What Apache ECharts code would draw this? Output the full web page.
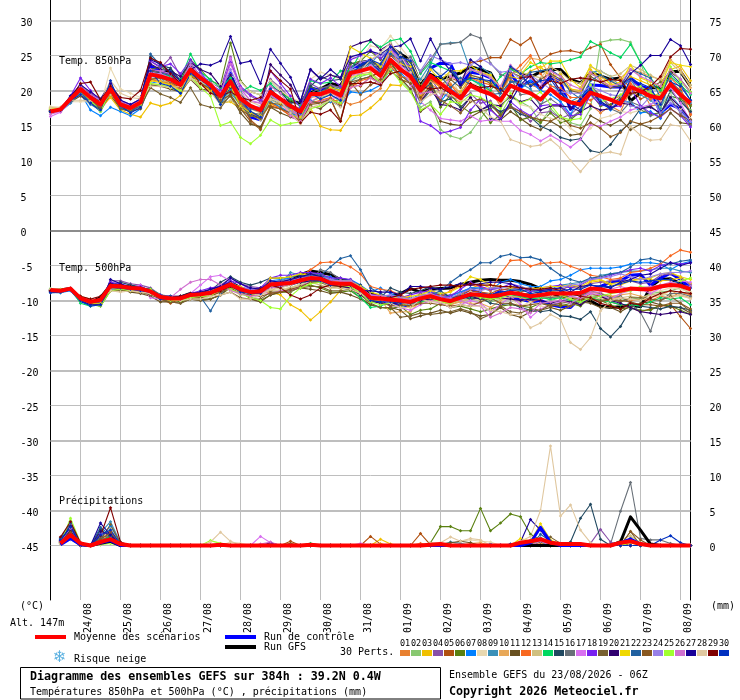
<!DOCTYPE html>
<html><head><meta charset="utf-8">
<style>html,body{margin:0;padding:0;background:#fff}#c{width:740px;height:700px}</style>
<script src="https://cdn.jsdelivr.net/npm/echarts@6/dist/echarts.min.js"></script>
</head><body><div id="c"></div>
<script>
const dateLabels=['24/08','25/08','26/08','27/08','28/08','29/08','30/08','31/08','01/09','02/09','03/09','04/09','05/09','06/09','07/09','08/09'];
const leftTicks=[30,25,20,15,10,5,0,-5,-10,-15,-20,-25,-30,-35,-40,-45];
const rightTicks=[75,70,65,60,55,50,45,40,35,30,25,20,15,10,5,0];
const memberNames=['01','02','03','04','05','06','07','08','09','10','11','12','13','14','15','16','17','18','19','20','21','22','23','24','25','26','27','28','29','30'];
const memberColors=['#e88030','#88c870','#f0c000','#8850a8','#b05010','#5a8010','#0080ff','#e8d8b0','#3a90b8','#e8a858','#685020','#f86820','#d0c080','#00d860','#204860','#687078','#d870f0','#7820f0','#786030','#300070','#f0d800','#2060a0','#885820','#9880e8','#a0ff30','#d070d0','#180098','#e0c8a0','#800000','#0030c0'];

const mean850=[17,17.3,18.8,20.2,19,18,20.2,18,17.5,18.3, 22.3,22,21.6,20.8,23,21.8,20.8,19.2,21.3,18.8, 17.8,17.2,19.8,18.8,17.8,17,19.5,19.5,20,19.3, 22.5,22.8,23.2,22.1,24.4,23,22,20,22.1,21, 19.9,18.9,20.7,20,19.5,18.6,20.7,20.1,19.6,18.7, 20.2,19,18.3,18,19.7,19.2,18.7,18.1,20.5,19.9, 19.2,18.9,20.9,19.4,18.2];
const ctrl850=[17,17.2,18.9,20,18.8,17.6,20.6,17.7,17.4,18.4, 23.5,22.7,22.2,20.9,23.4,22,20.7,19.7,22.5,18.6, 16.2,15.8,19.5,18.4,17.4,16.4,20.4,20,20.4,19.5, 23.3,23.5,24.4,22.4,25.3,23.8,23.1,19.6,23.2,23.9, 23.8,20.8,22.6,22.4,21.8,20,22.4,20.5,21.4,20.2, 22,21.2,17.3,18.6,20.8,20.7,20.5,20.5,21.8,20.6, 20.2,16.8,18,17.4,15.5];
const gfs850=[17.1,17.2,18.7,20.3,18.9,17.9,20.4,17.8,17.3,18.5, 23,22.3,22.9,20.5,22.4,21.4,20.2,18.7,22,18.3, 16.5,16.2,19.2,18.6,18.5,18.2,19.7,20.2,21,20.7, 23.1,24,24.2,23.2,26,25.2,24.4,21,22.3,21.6, 22.1,22.5,23.4,23,22.5,20,23.2,22.5,21.9,22.7, 23,23,21.6,21.1,22.5,22.1,21.6,21.8,18.5,19.7, 20.4,20.4,22.7,22.7,20.6];

const t850_01=[17.3,17.3,18.6,19.8,18.6,17.2,19.2,17.5,17.4,18.4, 21.4,21.2,20.8,20.2,22.6,21.4,20.2,18.8,20.4,18, 16.8,16.3,18.8,18,17,16.2,18.2,18.3,18.4,18.7, 18,18.4,19.3,20.3,24,23,21.7,18.6,21,19.8, 19.2,18.3,20.7,20.5,20,17.8,21.5,21,20.8,20.3, 24,18.7,18.2,18.7,18,16.8,17.8,17,20,20.5, 17.8,18,21,19.6,16.5];
const t850_02=[17.5,17.4,18.5,19.6,18.6,17,19.6,17.8,17.2,18.6, 21.6,21.4,21,20.4,22.8,21.2,20.4,18.6,19.8,17.8, 17,16.4,18.2,17.6,16.6,16,18.4,19,19.4,18.4, 21.4,22,22.4,21.2,23.6,21.6,20,17.6,18.4,14.4, 13.5,13.1,14,16,17.8,16.6,19,18.4,17.6,15.4, 17.4,16,15.4,15,17.4,26.9,27.2,27.3,26.9,24, 20,17.6,19.8,18.6,17.2];
const t850_03=[17.6,17.5,18.4,19.4,18.4,17.6,19,17.2,16.6,16.2, 18.2,17.8,18.2,19.3,22,21,20,18.2,18.4,17.4, 16.6,16,18,17.6,16.8,15.8,17.5,14.9,14.4,14.3, 16.4,16.5,17.5,18.8,20.8,20.7,22.4,19.4,21.6,20.4, 20.8,19.8,22,21.4,21.2,19.8,22,21.6,22.8,23.4, 22,22.4,20.2,20,23,21.6,20.6,20.9,22,21.4, 20.8,20,23,23.5,21.4];
const t850_04=[17,17.2,19,20.9,19.6,18.6,20.8,18.4,17.8,18.7, 24.2,23.2,24.7,22,23.8,21.6,21.2,20.3,24.8,20.4, 19.2,18.4,21.6,20.4,18.8,17.8,21,20.2,20.8,20.4, 23.4,24.2,24,23,25.8,24.6,23.2,20.2,21.8,19.6, 19,18.8,19.6,18.2,18.5,16.6,17.8,17,15.6,16.8, 17,16,16.6,17.8,20.6,19.2,17.8,18.8,21.4,20.4, 19.6,18.4,20.6,19,16.8];
const t850_05=[17.1,17.3,18.9,20.4,19.2,18.2,20,18.1,17.6,18.2, 22.4,22.2,21.8,21,24,22,21,19.5,20.8,18.2, 15.8,14.6,17.8,17.4,16.4,15.6,18.4,18.4,18.9,15.6, 21,20.6,22,22.6,25,24,22.6,20,21.5,20.8, 21.8,21.2,24,24.2,24.7,24.7,27.3,26.5,27.5,24.3, 25.2,25.6,25.7,25.4,26.1,26.6,23.7,21.8,20.4,18.8, 19.4,18.6,21.2,20,18];
const t850_06=[16.9,17.2,19.2,20.6,19.4,18.4,20.4,18.3,17.7,18.8, 23,23.4,22.6,21.4,24.4,23,21.4,20.8,26.8,21.4, 19.8,19.4,21.4,20,18.6,17.8,20.6,19.8,20.6,20, 23.8,24.2,25.6,24.4,26.4,24.6,24,20.6,21.4,17.6, 19.4,17.8,16.8,17.2,15.4,16.6,18,15.8,16.2,15.4, 16.8,15.4,15.8,17,19.6,17.8,18,19,18,17.2, 16.6,16.8,19.2,18.8,17.8];
const t850_07=[17,17,18.2,19.6,17.2,16.4,17.6,17,16.4,17.4, 21,21.4,20.6,19.6,22.4,21.4,20.4,18.4,20.2,18.2, 16.6,16.4,18.4,17.6,16.8,16.2,18.6,18,18.4,17.8, 19.8,19.6,20,20.8,23,22.6,21,18.2,20,18.4, 20.2,19.4,21.6,21,20.2,18.4,20.6,20.2,21.4,20, 19.4,18.4,16.6,19,20.4,18.6,17.2,18.4,18.4,16.8, 17,16,19.4,17.6,15.4];
const t850_08=[17.7,17.6,18.4,18.4,18.4,17.8,23.2,20.2,19.6,19, 20.8,21,20.6,21,22.4,21.6,21,20.8,22.2,21.2, 19.8,19.4,21.4,20,19,18.4,21.6,22.6,22.2,21.6, 24.8,24.4,26.4,26,27.8,26.2,24.4,21.4,23,22.4, 22.2,19.2,21,20.8,19.6,18.2,19.4,18,17.6,16.6, 16,15.8,14.6,13.6,14.6,16,16.4,17,16.8,17.2, 18,18.6,19.4,17.4,16];
const t850_09=[17.2,17.1,18.2,19.4,18,17.2,19.8,17.6,17.3,18, 22,21.8,20.6,20.2,23,22,21.4,18.2,19.6,18.2, 16.4,16.2,18.8,18,17.4,16.8,19.4,19.8,20.2,20.4, 21.2,22.6,23.8,25.4,25.2,24.8,22,21.6,23.8,26.6, 26.8,26.9,22.8,23.4,22.4,19,21.2,21,20.2,17.8, 20.8,19.8,18.4,19.2,22.6,22.8,22,20.6,21.6,19.4, 18.6,17.4,21.4,19.8,18.2];
const t850_10=[17.4,17.4,18.6,20,18.8,18,20,18.2,17.4,18.2, 21.8,21.4,21.2,20.6,23.4,21.8,20.4,18.8,21,18.4, 17.4,16.8,19.2,18.4,17.6,16.6,19,19.2,19.6,19, 22,22.4,22.6,21.4,23.6,22.8,21.8,20.2,21.2,20.8, 21,19.6,20.8,19.8,20.2,18.4,22.4,22.8,24.6,24.4, 22,21.2,20,19.8,22.4,22,21,21.8,23,22.6, 22,21.6,24.4,23,20.4];
const t850_11=[17,17,18.4,19.2,18.2,17.4,19.4,17.4,17,17.4, 20.8,20.6,20.2,19.8,21.6,20.2,20,18,19.2,16.8, 15.2,14.8,17.6,16.8,16.2,15.8,17.8,17.4,18.6,18.2, 20.8,21.6,22,22.6,24.2,21.8,20.2,17,18,15.6, 15.2,15,16.2,17,17.4,15.8,17,16,15,14.4, 15.6,14.8,13.6,13.8,16.4,15.6,15,15.8,14.4,15.2, 14.6,14.6,16.8,15.4,15.2];
const t850_12=[17.2,17.2,18.8,19.8,18.8,17.8,19.6,17.6,17.2,18, 21.6,21.2,21,20.2,22.2,21,20.2,18.6,20.4,18.2, 16.8,16,18.2,17.4,16.4,15.6,18.2,18.6,19,18, 20.4,21.4,21.8,21,23.4,22,21.6,19,21.8,20.4, 20.8,19.2,21.8,21.2,20.8,19.8,22.2,23.6,25,22.4, 20.6,20.4,19,19,18.6,19.4,18.6,19.2,21,19.8, 18.8,19.8,21.8,20.4,16.6];
const t850_13=[17.5,17.5,18.6,19.4,18.6,17.8,19.4,18,17.4,17.8, 21,20.8,20.4,20,21.6,20.8,19.8,18,18.6,17.6, 16.6,15.8,18.6,18,17.2,16.6,19,19.6,20.2,19.8, 22.6,23,23.4,23.8,25.4,23.4,21.2,19.6,20.4,19.6, 23,21.6,23,22.4,22,20.4,23,22.6,22.2,21.8, 23.4,22.6,21.4,21,23.4,22.8,22,22.4,23.6,23, 22.2,21.4,24,22.6,20.8];
const t850_14=[17.2,17.3,18.9,20.4,19.2,18.2,20.4,18.2,17.6,18.4, 22.6,22.4,22,21.6,25.2,22.6,21.6,20.4,21.8,19.8, 20.6,20,21,19.6,18.8,17.8,21.4,21,21.2,22.8, 22.8,25.4,27,26.2,27.1,27.4,25.6,22.4,24,23.4, 22.8,21.4,21.6,20.8,20,22,23,22.4,23.4,24, 23.8,24,24.4,24.8,27,26.3,25.4,24.7,26.6,24, 21.8,20,22,20.8,19.4];
const t850_15=[17,17.1,19,20,18.6,17.6,20.8,17.8,17.6,18.6, 24.8,23.6,23.2,21.4,23.4,22,20.6,18.4,20.4,17.8, 16.6,16,20.6,19.8,18.2,18.4,20.6,22,21.4,21.6, 24,23.4,24.4,23.2,26.4,25.4,23.4,19.8,21,18.4, 18.8,17.6,19,17.2,17.8,17,17.6,16.6,16.2,14.9, 14.3,13.3,12.9,13.1,11.4,11.1,12.3,14.2,15.4,17.4, 17.8,16.6,20,18.4,17];
const t850_16=[17.1,17.3,18.7,19.8,18.4,17.8,20.4,18.2,17.8,18.2, 22.8,22.6,22.2,21,23.6,22.2,20.9,19.4,20.8,18.4, 16.8,16.6,20,18.8,18,17.4,19.6,20.4,20.6,20.4, 22.8,23.2,24,23.4,25.2,24,24.8,22.6,24.4,26.6, 26.7,26.9,28,27.5,23.9,22.3,21.8,19.4,19.6,18, 18.8,17.8,16,17.2,20.8,19.2,17.4,16.8,18.4,17.8, 16.4,16.8,18.8,16.8,15];
const t850_17=[16.3,16.9,18.4,20.2,19.2,18,20.6,18.4,17.8,18.2, 22.6,22.4,21.8,20.4,23.2,21.8,20.6,19.2,24.6,20.2, 18.6,18.2,19.4,18.4,16.4,15.4,18.2,18.4,18.8,19.2, 22.2,22.4,23.6,22.6,26.4,23.6,20.8,18.4,17.2,16, 15.8,15.6,16.4,15.6,15.8,15.6,15.6,14.3,13.7,12.8, 13.6,12.8,11.9,13,15.1,14.9,15.6,16.2,17.2,17.6, 18,18.8,20.4,18.2,15.6];
const t850_18=[17.2,17.3,19.2,21.8,20,18.4,21,18.6,18,18.8, 24.2,23.4,23.8,22.4,24.4,22.6,20.8,20,24,20.6, 19.4,18.6,22.8,21,19.2,17.6,21.6,21,21.8,20.6, 24.4,25,25.8,24.6,25.8,25,23.2,15.6,15,13.9, 14.2,14.7,17.2,18.8,17.2,16,18.4,17.2,16.4,17.8, 18,18,16.4,16.6,19.4,18,17.6,17.8,20.4,17.8, 16.8,16.2,17.4,16.4,14.8];
const t850_19=[17,17.2,18.5,20,18.8,17.5,19.8,17.4,17,17.8, 20.4,19.5,19,18.3,20.4,18,17.6,17.5,19.4,17.2, 16.4,16,18.2,18,17.6,16.6,18.4,18.2,18.6,17.8, 21.2,21.6,22,21,23.8,22.2,21,18.4,20,18.6, 21.6,20.4,22.2,21.8,21,19.6,22.6,22,20.8,21.6, 22.4,21.6,20,19.6,22,21.2,20.4,20.6,19.4,20, 20.4,21.2,22.6,21.6,19.8];
const t850_20=[17,17.1,19,20.6,19.4,18.2,20.4,18.4,17.8,18.6, 23.8,23,22.8,22,24,23,22.4,20.6,22.2,19.6, 17.8,17.4,23.7,22.2,20.8,18.4,23,21.6,22.2,21.8, 26.2,26.8,27.2,25.8,26.7,24.8,22.4,18.4,20.4,18, 17.8,17.2,19,17.2,18,17.8,19.2,18.4,18.8,17.2, 17.8,17.8,17.6,17,17.8,17.2,17.4,18.2,18,17.4, 17.6,16.8,19,17.6,15.8];
const t850_21=[17.4,17.4,18.8,20.2,19,18.2,20,18.1,17.4,18.4, 21.4,21.2,20.8,20,22.6,21,20,18.6,20.6,17.8, 16.8,16.4,19.2,18.2,17.2,16.2,19.2,19.4,20.4,20, 26.2,25.4,24.6,23.4,25.6,23.8,23.4,20.6,23,21.4, 22.8,22.8,23.6,22.6,22.2,20.4,23.4,22.2,24,23.2, 24.2,24.2,21.6,20.4,23.6,22.4,20.8,21.2,23.6,21.8, 21.2,20.6,24,23.6,23.4];
const t850_22=[17.1,17.2,18.4,19.8,18.2,17,20,17.6,17,18, 25.2,23.6,22.8,21.2,22.6,21.6,20.4,18.6,21.4,18.8, 17.4,17,20.2,18.6,17.6,16.8,19.4,19.2,20,19.2, 22.6,23,24,22.6,25.2,24.4,22.8,20.4,23.4,22, 20.4,21.8,20.8,20.2,19.4,19.6,21.2,21.4,22.6,22.8, 23,22,19.8,18.8,21.4,22.2,21.4,20.6,23,22.4, 21.8,19,22.4,21,18.6];
const t850_23=[17,17.2,18.6,19.8,18.8,18,19.8,17.8,17.2,18.1, 21.6,21.8,21.2,20.4,22,21,20.2,18.6,19.4,17.4, 15.6,14.4,17.6,17.4,16.8,15.4,18,18.2,18.8,15.8, 21.2,19.4,20.8,21.6,22.8,21.6,21,19,20.6,18.6, 17.8,16.8,18.4,18.8,18.2,16.4,17.6,17,16.2,15.8, 15.6,16.4,15,14.6,15.4,14.6,13.4,14,15.6,15.2, 15.6,16.4,17.4,16.4,15.8];
const t850_24=[17.1,17.3,19,20.4,19.2,18.2,20.2,18.2,17.8,18.6, 22,22.2,21.4,20.8,24,22,21,19.8,23,20, 17.8,17.6,19.2,18.4,17,16.6,19,19.6,20,19.4, 23,24,24.4,25,25.8,24.4,24.4,22.8,25,24.4, 23.8,24,23.6,24.6,23.8,22.6,22.8,21.6,22.2,21.2, 20.2,19.8,19.6,19.6,20.6,20,19.4,19.2,17.8,17.6, 19.2,16.8,18.2,17,15.6];
const t850_25=[17.3,17.3,18.8,20,18.6,17,20,17.8,17.4,18, 21,20.8,20.4,20,22,20.4,19.2,15,15.5,13.3, 12.4,13.6,15.8,15,15.3,15.5,17.4,17.8,18.6,18.2, 21.8,22.2,22.4,21,23,21.2,19.8,17.2,18,16.6, 18.4,18.2,19.4,19,18.2,17.4,19.6,18.2,18.8,19.8, 18,16.2,15.8,16,20.8,18.4,18.8,19.4,20.2,20.6, 19.6,19.2,23.4,21.2,19.8];
const t850_26=[16.6,17,18.7,20.6,19.4,18.6,20.6,18.4,17.9,18.5, 23,22.8,22.4,21.2,23.6,22.2,20.8,19.6,23.8,20.4, 18.4,18.2,20.6,19.6,17.8,15.6,18.4,19.2,19.8,18.8, 20.4,20.8,21.8,21,26,23.6,22.4,19.6,19.8,19, 22,21.4,23,22.6,21.8,20.6,23.6,22.4,21.8,20.6, 22.8,22,20.8,20.2,22.6,21.4,20.6,21,23,22, 21.4,20.6,23,21.6,19.6];
const t850_27=[17,17.2,19.2,20.8,19.8,18.8,21,18.6,18,18.8, 24.4,23.8,22.6,21.4,23,23.8,23.6,24.2,27.7,23.9, 24.2,21,25.9,23.9,21.9,18.5,23,21.7,23,21.8, 24.8,25.2,25.6,25.2,26.2,26.4,27.4,24.2,27.4,24.6, 22.8,20.8,24.4,23.4,16,15.8,18.4,20.8,22.2,20.4, 22,20,17.4,18.8,20.2,18.4,17.6,20.4,22.4,23.6, 25,25,27.3,26.4,23.7];
const t850_28=[17.5,17.6,18.6,18.6,18.5,18.4,21.4,19.6,19,18.8, 20.6,20.6,20.4,20.6,21.8,21.2,20.6,19.2,21,19.6, 18.4,17.8,18.8,18.4,16.8,15.2,17.6,18,18.6,17.6, 21.6,22.8,24.4,25.4,26.8,25,22.6,18.4,19.4,19.8, 19.4,18.6,18.6,17.6,16.2,15.6,13,12.5,12,12.2, 13,11.8,10,8.4,10.1,11,11.2,10.9,14.9,13.6, 12.9,13,15.1,14.9,12.8];
const t850_29=[17.1,17.2,18.8,21,21.2,18.7,20.6,19,18.8,20, 24.6,24,22.4,21,22.8,21,19.6,19.2,19.8,19, 18.6,19,22.8,21.4,20.2,15.4,16.9,16.6,17.2,15.6, 21,21,21.2,20.8,22.4,22.8,22,20.6,20.2,20.4, 19.6,19.2,21,20.4,20.6,20.2,19,21.8,22,20.4, 21.4,21,21.6,21.8,21.6,21.2,21.6,21.4,19.6,19.8, 20.6,22,24.8,26,25.9];
const t850_30=[17,17.2,18.6,19.4,18.2,17.2,21.4,17.8,16.8,17.6, 22.8,21,20.6,19.6,22.4,21.6,20.4,18,21.2,18.8, 17,16.2,20.2,18.8,17.8,16.8,19.6,18.8,19.4,18.6, 22.2,23.6,24.4,23.8,26.2,24.8,24.2,20,22,22, 23.2,21.2,21.8,21.6,21.4,20,23.4,22.4,20.6,21.4, 21.6,19.6,18.2,17.2,20,18.2,17.4,18.6,21.6,21, 20.4,18,21.2,20.6,18.6];
const temps850=[t850_01,t850_02,t850_03,t850_04,t850_05,t850_06,t850_07,t850_08,t850_09,t850_10,t850_11,t850_12,t850_13,t850_14,t850_15,t850_16,t850_17,t850_18,t850_19,t850_20,t850_21,t850_22,t850_23,t850_24,t850_25,t850_26,t850_27,t850_28,t850_29,t850_30];

const mean500=[-8.5,-8.6,-8.3,-9.7,-10.2,-9.9,-7.9,-8,-8.2,-8.3, -8.7,-9.5,-9.7,-9.7,-9.2,-9.1,-8.9,-8.3,-7.7,-8.4, -8.8,-8.7,-7.7,-7.6,-7.5,-7.1,-6.8,-6.9,-7.5,-7.6, -7.6,-8.4,-9.6,-9.7,-9.9,-10,-10.2,-9.7,-9.4,-9.8, -10.1,-9.6,-9.1,-9.2,-9.4,-9.2,-8.9,-9.1,-9.4,-9.2, -9,-9,-9,-8.9,-8.3,-8.4,-8.7,-8.6,-8.3,-8.4, -8.4,-8,-7.8,-7.9,-8.4];
const ctrl500=[-8.7,-8.7,-8.4,-10,-10.6,-10.4,-7.6,-8.2,-8.1,-8.5, -8.5,-9.6,-9.5,-9.8,-9.2,-9,-8.7,-8.6,-7.6,-8.2, -8.6,-8.9,-7.3,-7.9,-7.2,-6.8,-6.4,-6.8,-7.6,-7.5, -7.4,-8.6,-10,-10.2,-10.4,-10.6,-10.8,-10,-9.4,-9.2, -9.8,-9.2,-8.4,-9,-9.4,-8.7,-9.6,-9.8,-10.2,-10, -10.6,-10.9,-11,-9.6,-8.4,-8,-7.4,-7.2,-6.4,-6.3, -7.8,-6.8,-6.1,-7,-8.2];
const gfs500=[-8.6,-8.5,-8.3,-9.9,-10.3,-9.6,-7.8,-8.1,-8,-8.5, -8.6,-9.3,-9.8,-9.5,-9,-9,-9,-8.2,-7.4,-8.2, -8.9,-8.3,-7.6,-7.3,-7.2,-6.3,-5.8,-6,-6.3,-7, -7.2,-8.2,-8.9,-9.6,-9.4,-9,-8.3,-8.8,-8.4,-8.3, -8.2,-7.7,-7.4,-7.1,-7,-7.1,-7.1,-7.3,-7.7,-8.3, -8.9,-9.4,-9.6,-9.9,-10.1,-10.8,-11,-10.9,-10.6,-10.9, -8,-7,-6.9,-7.6,-8.3];

const t500_01=[-8.5,-8.8,-8.4,-9.4,-10,-10,-8.4,-8.2,-8.6,-8.7, -9,-9.8,-10,-10,-9.6,-9.4,-9.2,-8.8,-8,-8.6, -9,-9,-8.2,-7.9,-7.6,-7.4,-7,-7.2,-7.8,-8.2, -8,-9,-10,-10,-10.2,-10.4,-10.4,-10.2,-9.8,-10, -10.6,-10,-9.8,-9.6,-9.6,-9,-8.6,-9.4,-10.2,-9.8, -9.4,-9.6,-10,-9.4,-8.8,-9,-9.4,-9.6,-10,-9.8, -10,-9.4,-9.6,-8.8,-9.2];
const t500_02=[-8.3,-8.5,-8.2,-9.6,-10.8,-10.2,-8.2,-8.4,-8.4,-8.6, -8.4,-9.2,-9.9,-10,-9.4,-9.2,-9.2,-8.6,-7.4,-8.8, -9.6,-9.4,-8,-8.4,-8.2,-7.6,-7.2,-7.4,-8,-8, -7.8,-8.4,-9.2,-10.4,-10.6,-11,-10.2,-9.8,-9.4,-10, -10.4,-9.4,-9.6,-9.8,-10.2,-9.8,-9.6,-9.4,-9.8,-9.2, -10,-9.6,-10.2,-9.6,-9.4,-9.2,-9.8,-10,-9.6,-9.8, -9,-8.8,-8.6,-8.2,-9];
const t500_03=[-8.6,-8.7,-8.5,-10,-10.4,-10.6,-8.6,-8.4,-8.6,-8.9, -8.8,-9.6,-10,-9.8,-9.2,-9.4,-8.8,-8.4,-8,-9, -9.4,-9,-8.8,-9.2,-10.6,-11.4,-12.8,-11.6,-10.2,-8.6, -7,-8.8,-10.2,-9.8,-10.2,-10.4,-11,-10.4,-9.2,-9.6, -10,-9.2,-8.4,-7.6,-8.2,-8,-8,-8.4,-8.2,-8.4, -8.8,-8.4,-8,-8.4,-7.4,-7.2,-7.8,-7.8,-7.2,-6.8, -7,-7.2,-7,-6.8,-7.6];
const t500_04=[-8.4,-8.5,-8.4,-9.8,-10.6,-10,-7.2,-7.2,-7.6,-7.8, -8.2,-9.2,-9.4,-9.4,-9,-8.8,-8.6,-7.8,-6.8,-7.6, -8,-8.2,-7.4,-7.2,-7,-6.8,-6.4,-6.6,-7.2,-7.2, -7.4,-8.6,-9.4,-9.2,-9.4,-9.4,-9.8,-9,-8.4,-9.4, -9.2,-8.8,-8.2,-8.4,-8.4,-8.6,-8.2,-8.4,-8.2,-8.6, -8.2,-8.6,-7.8,-8.2,-7.6,-7.4,-7.2,-7,-7.2,-7.6, -7.4,-6.4,-6.2,-6.6,-7.8];
const t500_05=[-8.7,-8.7,-8.3,-9.6,-10,-10,-8,-7.8,-8,-8.2, -8.8,-9.8,-10.4,-9.8,-9.6,-9.6,-9.2,-8.6,-7.6,-8.2, -8.8,-9,-8.6,-8,-7.8,-7.2,-6.8,-6.6,-7.2,-7.4, -7.6,-8.6,-9.6,-9.8,-10,-10.2,-10,-9.4,-9,-9.2, -9.8,-9,-8.6,-8.8,-9,-8.4,-8.4,-8.8,-8.4,-9.2, -9.4,-9.6,-9.4,-10,-9,-9.4,-10.2,-10.6,-11,-11.6, -11.2,-10.8,-10.6,-12.3,-14];
const t500_06=[-8.6,-8.6,-8.4,-9.8,-10.2,-10.4,-8.2,-8.6,-8.4,-8.8, -8.8,-9.6,-9.8,-10.2,-9.8,-9.8,-9.8,-9.2,-8.2,-8.8, -9.6,-10,-9.2,-8.8,-8.8,-8,-7.8,-8.2,-8.8,-8.8, -8.6,-9.6,-10.6,-11,-11.2,-10.8,-12,-11.4,-11.2,-10.4, -11,-10.8,-11.2,-11.6,-11.2,-10.8,-10.6,-10.8,-11,-10.4, -10.6,-10.8,-10.4,-10.8,-9.6,-10,-10.6,-11.2,-11,-11.4, -11.4,-10.6,-10.8,-11.4,-12];
const t500_07=[-8.8,-8.9,-8.6,-10,-10.4,-10.8,-8.4,-8.2,-8.4,-8.4, -8.6,-9.4,-9.6,-9.6,-9,-9,-8.8,-8,-7.2,-8.4, -9,-8.6,-7.2,-7,-6.8,-6.2,-6.4,-6.6,-6.6,-7.2, -7,-7.8,-8.8,-8.2,-9,-9.6,-9.6,-9.2,-8.8,-9, -9.4,-8.8,-8.2,-8.2,-8.6,-7.4,-7,-7.6,-8,-8, -7.2,-7,-6.4,-5.6,-5.4,-5.4,-5.4,-5.2,-4.8,-4.6, -4.6,-4.8,-5.6,-4.8,-4.4];
const t500_08=[-8.4,-8.6,-8.5,-9.6,-10.2,-10,-8.2,-8.2,-8.6,-8.8, -9,-9.8,-9.8,-10,-9.6,-9.2,-8.4,-8.4,-8,-9, -9.2,-9.2,-8.4,-8.4,-8.2,-7.6,-7.6,-7.4,-8.2,-8.2, -8,-8.6,-9.4,-9.8,-10,-10.4,-9.8,-8.8,-9.2,-9.6, -10,-9.4,-8.8,-9,-9.4,-10,-9.8,-10.8,-10.2,-10.8, -11,-11.4,-10.8,-10.2,-9.6,-9.4,-9,-8.4,-8.2,-8, -8.8,-8.6,-8.2,-8.4,-8.8];
const t500_09=[-8.9,-8.9,-8.4,-9.4,-10.4,-10.2,-8,-8,-8.2,-8.6, -8.8,-9.4,-9.8,-9.8,-9.4,-9,-8.8,-8.4,-7.8,-8.6, -9,-8.6,-7.8,-7.6,-6,-6.4,-6.2,-6.2,-7,-7.4, -7.8,-8.2,-9.2,-9.6,-9.8,-9.6,-10.4,-9.2,-9.6,-9.8, -10.2,-9.8,-9.2,-9,-9.2,-9,-8.4,-8.6,-8.6,-8.8, -8.4,-7.8,-7.6,-7.4,-7,-6.4,-6.2,-6,-5.8,-5.8, -5.6,-5.4,-5.4,-5.8,-6];
const t500_10=[-8.5,-8.6,-8.3,-9.4,-9.8,-10,-8,-8.6,-8.6,-8.4, -8.8,-9.4,-10,-9.6,-9.4,-8.8,-8.8,-8.2,-7.6,-8.4, -8.8,-8.8,-7.8,-7.6,-7.6,-7.2,-6.8,-7,-7.6,-7.8, -7.6,-8.6,-9.2,-9.8,-11.8,-11.6,-11.6,-10,-9.8,-10.2, -10.6,-10.2,-10.4,-10.4,-11,-10,-9.4,-9.6,-9.8,-9.6, -9.4,-9.6,-9,-8.8,-8.8,-9,-9.4,-9.2,-9,-9.4, -9.6,-9.2,-8.6,-9.2,-9.6];
const t500_11=[-8.6,-8.7,-8.5,-9.9,-10.5,-10.8,-8.6,-8.4,-8.8,-9, -9.4,-10.2,-10.2,-10.4,-9.8,-10,-9.8,-9.2,-8,-8.6, -9.8,-10.2,-9.2,-8.8,-8.4,-8.2,-8.4,-8.6,-9,-8.8, -9.2,-9.8,-10.6,-11,-11,-11.4,-12.6,-12.2,-11.8,-11.4, -11.8,-11.4,-11.8,-12.2,-12,-11,-12,-12.4,-11.6,-11.4, -11,-11.4,-10.8,-10.2,-10.4,-11,-11,-11.6,-10.8,-10.4, -10.2,-10.6,-11,-11,-11.8];
const t500_12=[-8.7,-8.6,-8.3,-9.8,-10.2,-10,-8.2,-8,-8.4,-8.6, -8.8,-9.6,-9.6,-9.8,-9.4,-9,-8.8,-8.4,-7.6,-8.6, -9,-8.8,-7.4,-7.6,-7,-6.6,-5.6,-4.6,-4.5,-4.6, -5.2,-6.2,-8,-8.4,-8.6,-9.2,-9.8,-9.6,-9.2,-9.4, -8.6,-7.8,-7.8,-8,-8.6,-6.2,-4.3,-4.2,-5.1,-4.7, -4.6,-4.5,-5.1,-5.6,-6.4,-6.6,-7,-6.8,-6,-5.8, -5.4,-4.8,-3.6,-2.8,-3.1];
const t500_13=[-8.5,-8.5,-8.4,-9.6,-10,-9.8,-8.2,-8.4,-8.2,-8.6, -9,-9.6,-9.8,-9.6,-9.4,-9.4,-9.2,-8.6,-8.4,-9.2, -9.2,-9,-8.6,-8.6,-8.2,-7.8,-7.4,-7.8,-8.2,-8.2, -8.2,-8.8,-9.6,-9.6,-10,-10.2,-10.6,-10.4,-9.8,-10.2, -10.4,-10,-9.8,-10,-9.6,-9.8,-9.8,-10.2,-9.6,-9.6, -9.4,-9.8,-9.6,-9.6,-9.4,-9.8,-9.8,-9.6,-9.4,-9.6, -9.2,-9,-9.2,-9.4,-9.6];
const t500_14=[-8.4,-8.5,-8.4,-10.4,-10.8,-10.2,-8.4,-8.2,-8,-8.2, -8.4,-9.2,-9.6,-9.6,-9.2,-8.8,-8.6,-8.2,-7.8,-8.6, -9,-8.6,-7.6,-7.8,-7.6,-7.4,-7.2,-7.4,-7.8,-8, -8.4,-9.6,-11,-10.8,-10.2,-10,-10.4,-10.2,-9.8,-10, -10.2,-9.6,-9.6,-9.2,-9.2,-9.4,-9.2,-9.4,-9.8,-9.6, -9.8,-9.6,-10,-10.2,-9.6,-10,-10.2,-10.6,-10.6,-10.8, -10.2,-9.6,-9.8,-9.6,-10.6];
const t500_15=[-8.6,-8.6,-8.3,-9.6,-10.4,-10,-7.8,-7.4,-7.8,-8, -8.6,-9.4,-9.6,-9.4,-9,-9,-8.6,-7.4,-6.6,-7.4, -7.8,-7.4,-6.8,-6.8,-6.6,-6.4,-6.2,-6.4,-7.2,-6.8, -7.4,-7.8,-9.4,-9.6,-8.2,-8.8,-9,-8.6,-8,-8.6, -9.6,-9.4,-9.8,-9.6,-10.4,-10.6,-10.4,-11,-11.4,-11.6, -11.4,-12.2,-12.3,-12.7,-11.6,-14,-15.2,-13.7,-11.3,-10.8, -11,-11.2,-10.8,-11,-11.4];
const t500_16=[-8.6,-8.7,-8.4,-9.8,-10.2,-10,-7.8,-8,-8.2,-8.4, -8.8,-9.6,-9.8,-9.8,-9.2,-9.2,-9,-8.4,-7.6,-8.4, -8.8,-8.6,-7.6,-7.4,-7.6,-7.4,-7.2,-5.6,-6,-7, -7.6,-8.4,-9.4,-9.6,-9.8,-10,-10.2,-9.6,-9.2,-9.6, -10.2,-9.6,-9.2,-9.4,-10,-9.4,-9,-9,-9,-9.4, -9.6,-9.4,-9.4,-9.2,-8.6,-9,-9.6,-9.4,-10.4,-11.7, -14.4,-10,-9,-9,-9.4];
const t500_17=[-8.5,-8.5,-8.2,-9.6,-10,-9.8,-8.4,-8.2,-8.2,-7.8, -9.6,-9.8,-9.8,-9.8,-9,-7.8,-6.6,-6.4,-7.2,-8.6, -8.8,-8.8,-9,-8.6,-8.6,-8,-7.2,-7,-7.4,-7.4, -7.2,-8,-9.4,-9.8,-10.6,-11,-11.4,-10.6,-10,-10.4, -11,-10.6,-10,-10.4,-11.6,-10.6,-9.4,-10.6,-12.4,-11.2, -10.6,-10.2,-9.4,-9.6,-9,-9.2,-9.8,-9,-8.6,-8.4, -9,-8.2,-7.6,-7.2,-7.4];
const t500_18=[-8.7,-8.6,-8.4,-9.8,-10.6,-10.2,-7.4,-7.6,-8,-8, -8.6,-9.2,-9.8,-9.6,-9,-8.6,-8.2,-8,-7.2,-7.6, -8.4,-8.2,-6.8,-6.4,-6.4,-6,-6,-6.2,-6.8,-6.8, -7,-8.2,-9.2,-9.2,-9.4,-9.6,-9.2,-8.8,-8.6,-9.6, -9.4,-8.4,-7.4,-8,-8.4,-8.2,-7.6,-8,-8.8,-8.2, -8,-7.8,-8.2,-7.8,-7,-6.8,-6.4,-6,-5.6,-5.4, -5.8,-5,-4.6,-4.8,-4.6];
const t500_19=[-8.6,-8.6,-8.5,-9.6,-10.4,-10.6,-8.6,-8.6,-8.4,-8.8, -9.2,-9.8,-10.2,-10.4,-9.8,-10,-9.8,-9.2,-8.8,-9.6, -9.8,-9.8,-8.8,-8.8,-8.6,-8.2,-8,-8,-8.6,-8.6, -8.4,-9.2,-10.4,-11,-11,-12.4,-12.2,-11.8,-12,-11.8, -11.6,-11.2,-11.6,-12.6,-12,-10.8,-11.6,-11.8,-11.2,-11.4, -10.6,-10.4,-10.2,-10.6,-9.8,-10,-9.8,-10.2,-9.6,-9.6, -9.8,-10,-9.4,-10.4,-11.6];
const t500_20=[-8.5,-8.5,-8.3,-9.8,-10.2,-10.2,-7.6,-7.8,-8,-8.2, -8.4,-9.4,-9.4,-9.4,-9,-9,-8.4,-8,-7.4,-8.4, -8.8,-8.2,-8.2,-8,-7.8,-7.4,-7.2,-7.2,-7.6,-8, -8.2,-9.2,-10,-10.4,-10.6,-10.2,-10.4,-10,-9.8,-9.8, -10,-9.8,-9.4,-9.8,-9.6,-9.6,-9.8,-10,-9.8,-10, -10.4,-10,-10.2,-10.6,-9.6,-9.4,-10,-10.4,-11,-11.6, -11.8,-12,-11.8,-11.6,-12];
const t500_21=[-8.6,-8.7,-8.4,-10,-10.4,-10.4,-8,-8.2,-8.4,-8.4, -8.6,-9.6,-9.8,-9.6,-9.4,-9.2,-8.8,-8.4,-7.6,-8, -8.6,-8.8,-6.8,-6.8,-6.6,-6.2,-6.4,-6.8,-7.4,-7.2, -7.2,-8,-8.8,-9.2,-9.6,-9.6,-9.4,-9.2,-8.6,-9, -8.8,-8,-6.6,-7,-7.8,-8,-8.2,-8,-8.4,-8.2, -8,-8,-7.8,-8,-7.2,-7,-7.6,-7.4,-7.2,-7, -6.8,-6.2,-6,-6.6,-7];
const t500_22=[-8.7,-8.6,-8.4,-9.8,-10.2,-10,-8,-8.4,-8.4,-8.6, -8.8,-9.6,-9.4,-9.6,-9.2,-9.5,-11.5,-9,-7.8,-8.6, -8.8,-8.8,-7.6,-7.4,-7.2,-6.6,-6.4,-6.4,-5.2,-4, -3.6,-5.6,-8.2,-9,-9.6,-10,-10.4,-9.8,-9.2,-8.6, -7.4,-6.4,-5.6,-4.6,-4.6,-3.7,-3.4,-3.9,-3.8,-4.2, -5.4,-6.4,-7,-7.4,-6.8,-6.6,-6.2,-6,-5.2,-4.2, -4,-4.4,-4.8,-4.4,-4.2];
const t500_23=[-8.8,-8.7,-8.3,-9.8,-10.4,-10,-8.2,-8.2,-8.2,-8.4, -8.8,-9.8,-9.8,-9.8,-9.6,-9.6,-9.4,-8.8,-8.2,-9, -9.2,-9.4,-9,-8.8,-8.4,-8,-7.4,-7.4,-8,-8.2, -8.4,-9,-10,-10.2,-10.8,-10.6,-10.8,-10.4,-10.4,-10.6, -10.8,-10.6,-10.8,-10.2,-9.6,-10.4,-10.4,-10.8,-10.6,-10.4, -10.8,-10.6,-10.8,-9.8,-9.8,-10.2,-9.8,-10,-10.2,-10.6, -10.6,-10.8,-10.4,-10.4,-11.2];
const t500_24=[-8.6,-8.5,-8.4,-9.6,-10.2,-10,-8,-8,-8,-8.4, -8.6,-9.6,-9.6,-9.6,-9.4,-9.2,-8.6,-8.4,-7.6,-8.2, -8.4,-8.4,-7.2,-7.4,-7.2,-6.8,-6.6,-6.6,-7,-7.2, -7.2,-8.2,-9.4,-9.4,-9.2,-9.6,-9.8,-9.6,-9.2,-9.4, -9.6,-9,-8.4,-8.6,-8.2,-8.2,-8,-8,-8.4,-8.6, -8.4,-8.2,-7.8,-7.6,-7,-6.8,-6.6,-6.2,-6.6,-7, -6.6,-6.2,-6,-6,-5.8];
const t500_25=[-8.4,-8.4,-8.3,-10,-10.6,-10.8,-8.6,-8.4,-8.6,-8.4, -8.4,-9.6,-10,-10,-9.6,-9.4,-9.4,-8.2,-8.4,-9, -9.6,-10,-11,-11.2,-9.4,-8.2,-7.6,-7.4,-7.6,-7.8, -8,-9,-10.2,-10.6,-10.4,-10,-9.8,-9.6,-9.6,-10.2, -10.4,-9.8,-9,-9.6,-9.8,-9.6,-9.2,-9,-9.2,-9.4, -9,-9.2,-9.8,-10.2,-9.6,-9.4,-9,-8.8,-8.6,-8, -8.2,-7.8,-7.8,-7.2,-6.8];
const t500_26=[-8.5,-8.6,-8.4,-9.8,-10.2,-9.8,-8,-8,-8.4,-8.6, -8.8,-9.4,-9.6,-8.4,-7.4,-7,-7,-7.8,-8.6,-9, -9.4,-9.2,-8.2,-8,-7.6,-7,-6.8,-6.8,-7.2,-7.2, -7.4,-8.4,-9.2,-9.4,-9.6,-9.8,-9.8,-9.4,-9,-9.6, -9.8,-10,-10.6,-10.8,-12.4,-11.8,-11,-11.2,-11.8,-10.4, -10.2,-10,-10.4,-9.6,-8.8,-8.8,-8.4,-8,-8.4,-8.2, -8,-7.8,-7.4,-7.8,-8];
const t500_27=[-8.7,-8.7,-8.4,-10,-10.6,-10.6,-7,-7.6,-8.2,-8.4, -8.8,-9.4,-9.6,-9.4,-9,-8.8,-8.4,-8,-6.8,-7.6, -8.2,-8.4,-7.2,-7.4,-7,-6.6,-6.2,-6.6,-7.4,-7.6, -7.8,-8.6,-8.6,-8.8,-8.8,-9.2,-8,-8,-8.2,-8.4, -8,-7.6,-7.8,-7.6,-7.4,-7.4,-7.6,-8.2,-8.4,-8.6, -8.4,-8.2,-8.8,-8,-7.8,-8,-8.2,-7.4,-7,-6.4, -6.2,-5.4,-4.6,-5,-4.6];
const t500_28=[-8.4,-8.5,-8.5,-9.6,-10,-9.8,-8.6,-8.8,-8.6,-8.8, -9,-9.6,-9.8,-10,-9.8,-9.8,-9.4,-9.2,-8.8,-9.8, -9.8,-9.2,-8.4,-8.2,-7.8,-7.2,-6.8,-7.2,-8,-8.2, -8.4,-9,-9.8,-9.8,-10.4,-11,-11,-9.8,-10.2,-10.2, -11,-10.6,-10.8,-10.8,-11.4,-11.6,-12,-12,-13.9,-13.2, -12,-12.7,-16,-17,-15.3,-11.5,-10,-9.6,-9.8,-10, -9.4,-9.2,-9.6,-9.2,-9.8];
const t500_29=[-8.6,-8.6,-8.4,-9.4,-9.8,-9.4,-7.8,-7.8,-8,-8.2, -8.8,-9.4,-9.6,-9.4,-9,-9.2,-9,-8.6,-8,-8.6, -8.8,-8.4,-7.8,-8.2,-9.2,-9.8,-9.2,-8.2,-7.8,-8, -7.8,-8.4,-9.6,-9.6,-9.6,-9.2,-8.4,-8.2,-8,-7.8, -7.8,-8,-7.6,-7.8,-7.8,-8,-8,-8.2,-8.4,-8.4, -8.2,-8.6,-9,-9.4,-9.6,-10.4,-10.8,-11.2,-10.4,-10.6, -9.6,-9,-8.6,-8.8,-9];
const t500_30=[-8.9,-8.8,-8.5,-10,-10.8,-10.6,-8,-8.2,-8.4,-8.6, -8.8,-9.8,-9.8,-9.8,-9.2,-9,-9,-8.4,-7.8,-8.8, -9,-9,-7.8,-7.8,-7.4,-7,-7,-7.2,-7.8,-7.6, -7.8,-8.6,-10,-10.2,-10.2,-10.4,-10.2,-9.8,-9.4,-9.8, -10,-9.4,-9,-9,-9.2,-8.8,-8.6,-8.4,-9,-8.8, -8.6,-8.6,-8.4,-8.4,-7.8,-8,-8,-7.6,-7.2,-7.4, -7.2,-7,-7,-7.6,-8.2];
const temps500=[t500_01,t500_02,t500_03,t500_04,t500_05,t500_06,t500_07,t500_08,t500_09,t500_10,t500_11,t500_12,t500_13,t500_14,t500_15,t500_16,t500_17,t500_18,t500_19,t500_20,t500_21,t500_22,t500_23,t500_24,t500_25,t500_26,t500_27,t500_28,t500_29,t500_30];

// precipitation: member -> {step: mm}; steps not listed are dry
const meanRain={1:.3,2:1.5,3:.3,5:.5,6:.9,7:.2,17:.1,26:.1,38:.1,39:.2,47:.4,48:.6,49:.9,50:.4,51:.2,52:.2,53:.2,57:.4,58:.6,59:.2};
const ctrlRain={1:.1,2:1,3:.1,5:.4,6:.7,48:.4,49:2.6,50:.5,57:.4,58:.9,59:.2};
const gfsRain={1:.2,2:1.2,3:.1,5:.3,6:.6,57:.5,58:4.1,59:2.2,60:.2};
const rainMembers=[
{1:.8,2:2,3:.2,5:.6,6:1.6,7:.2},{1:.5,2:1.2,5:.3,6:.8,47:.2,48:.5,49:.6},{1:.4,2:2.4,3:.3,5:.2,6:1,7:.1,33:.9,34:.2,48:.8,49:1,58:.6},{1:1,2:3,3:.4,5:1.4,6:1.2,7:.1,54:.3,55:2.3,56:.5},{1:.5,2:1.4,5:.8,6:2,7:.3,24:.6,32:1.3,33:.2,37:1.7,38:.1,57:.4},{1:.4,2:1.8,5:.6,6:1.4,38:.4,39:2.7,40:2.7,41:2.1,42:2.1,43:5.3,44:2.1,45:3.2,46:4.5,47:4.1,48:1.6,49:.8,50:.2},{1:.6,2:2.2,3:.2,5:1,6:2.8,7:.2,44:.2,48:.7,49:1},{1:.2,2:.8,5:.1,6:.4,18:.5,19:.3,41:.6,42:.8,43:.6,44:.5,58:1.2},{1:1.1,2:2.6,3:.3,5:1.8,6:3.4,7:.4,40:.5,41:.3,48:.4,49:1.1},{1:.3,2:1,5:.3,6:.7,42:.3,43:.4,58:.8},
{1:.7,2:2.2,5:.9,6:1.1,39:.2,40:.4,41:.6,42:.4,58:1},{1:.3,2:1.4,5:.4,6:1,37:.3,48:.3,49:.4},{1:.5,2:1.6,5:.5,6:2.4,7:.2,57:.8,58:1.4,59:.4},{1:.6,2:1.8,5:.7,6:1.3,26:.3,47:.3,48:.5,49:.5},{1:.9,2:2.8,3:.2,5:2.3,6:1.2,52:.5,53:3.9,54:5.9,55:.9},{1:.7,2:1.6,5:1.2,6:.6,56:.2,57:4.9,58:9,59:1,60:.8,61:.8,62:.3},{1:.3,2:1.2,5:.1,6:.5,21:1.3,22:.4,31:.3,45:.1,51:.3},{1:.8,2:2.4,3:.2,5:1.6,6:1.8,47:.4,48:.7,49:.6},{1:.4,2:1.8,5:.8,6:3,7:.3,47:.2,49:.5,50:1.2,51:.3,58:2},{1:.6,2:2,5:2,6:1.6,7:.1,22:.4},
{1:.4,2:1.3,3:.2,5:.2,6:.8,33:.2,47:1,48:.6,49:3.1,50:.8,51:.2,58:.8},{1:1,2:3.2,3:.3,5:2.6,6:1.4,7:.2,49:1.6,50:.6,58:1},{1:.5,2:1.9,5:.9,6:1.8,24:.3,58:2,59:.8},{1:.4,2:1.4,5:.5,6:1,48:.4,49:.9,50:.3},{1:.3,2:3.9,3:.4,5:.1,6:.3,16:.7,17:.3,18:.1,58:.4},{1:.6,2:2.5,3:.2,5:.5,6:.9,21:.2,22:.5,49:.6},{1:.7,2:2.7,5:3.2,6:1.5,7:.1,47:.5,48:3.7,49:2.2,50:.3},{1:.2,2:1,5:.2,6:.5,16:.5,17:1.9,18:.6,38:.4,39:.4,40:1.2,41:.6,42:1,43:.8,47:.6,48:1.3,49:5,50:14.2,51:4.2,52:5.8,53:2.2,54:.4},{1:1.2,2:3.4,3:.4,5:1.4,6:5.4,7:.5},{1:.8,2:2.6,3:.2,5:1.5,6:2.2,7:.2,46:.2,47:.2,61:.8,62:1.4,63:.4}];
const rainSeries=r=>Array.from({length:65},(_,i)=>i===0?null:(r[i]||0));

const steps=Array.from({length:65},(_,i)=>(i+1)%4===0?dateLabels[(i-3)/4]:'');
const isDay=i=>(i+1)%4===0;

// vertical scale: 7px per degree, 0 degC at row 230.5
const leftMax=32.929,leftMin=-52.786,rightShift=45;
const halfPx=0.0714;
const hLines=[];
for(const v of leftTicks){
  if(v===0) hLines.push({yAxis:-halfPx,lineStyle:{color:'#8c8c8c',width:2,type:'solid'}});
  else if(v%10===0) hLines.push({yAxis:v-halfPx,lineStyle:{color:'#bebebe',width:2,type:'solid'}});
  else hLines.push({yAxis:v,lineStyle:{color:'#bebebe',width:1,type:'solid'}});
}

const series=[{type:'line',data:[],xAxisIndex:0,yAxisIndex:0,silent:true,z:1,
  markLine:{silent:true,symbol:'none',animation:false,z:1,label:{show:false},data:hLines}}];
function thin(name,data,color,axis){
  series.push({name,type:'line',data,xAxisIndex:0,yAxisIndex:axis,z:4,smooth:false,connectNulls:false,
    showSymbol:true,showAllSymbol:true,symbol:'diamond',symbolSize:3.5,silent:true,
    lineStyle:{color,width:1.1},itemStyle:{color}});
}
function thick(name,data,color,width,axis,z){
  series.push({name,type:'line',data,xAxisIndex:0,yAxisIndex:axis,z,showSymbol:false,silent:true,
    lineStyle:{color,width,join:'round'},itemStyle:{color}});
}
memberNames.forEach((n,k)=>{
  thin('850 '+n,temps850[k],memberColors[k],0);
  thin('500 '+n,temps500[k],memberColors[k],0);
  thin('precip '+n,rainSeries(rainMembers[k]),memberColors[k],1);
});
thick('GFS 850',gfs850,'#000',3,0,2);thick('GFS 500',gfs500,'#000',3,0,2);thick('GFS precip',rainSeries(gfsRain),'#000',3,1,5);
thick('Contrôle 850',ctrl850,'#0000ff',3,0,3);thick('Contrôle 500',ctrl500,'#0000ff',3,0,3);thick('Contrôle precip',rainSeries(ctrlRain),'#0000ff',3,1,5);
thick('Moyenne 850',mean850,'#ff0000',4,0,6);thick('Moyenne 500',mean500,'#ff0000',4,0,6);thick('Moyenne precip',rainSeries(meanRain),'#ff0000',4,1,6);

const mono='"DejaVu Sans Mono",monospace';
const T=(text,x,y,o={})=>({type:'text',x,y,z:20,silent:true,style:{text,fill:o.fill||'#000',font:(o.bold?'bold ':'')+(o.size||10)+'px '+mono,verticalAlign:'middle',align:o.align||'left'}});
const R=(x,y,w,h,fill)=>({type:'rect',z:20,silent:true,shape:{x,y,width:w,height:h},style:{fill}});
const graphics=[
 T('Temp. 850hPa',59,61),T('Temp. 500hPa',59,268),T('Précipitations',59,501),
 T('(°C)',20,606),T('(mm)',711,606),T('Alt. 147m',10,623),
 R(35,635,31,4,'#ff0000'),T('Moyenne des scénarios',74,637),
 R(225,635,31,4,'#0000ff'),T('Run de contrôle',264,637),
 R(225,645,31,4,'#000000'),T('Run GFS',264,647),
 {type:'text',x:53,y:658,z:20,silent:true,style:{text:'❄',fill:'#5ab0e0',font:'bold 16px "DejaVu Sans"',verticalAlign:'middle'}},
 T('Risque neige',74,659),T('30 Perts.',340,652),
 {type:'rect',z:20,silent:true,shape:{x:20.5,y:667.5,width:420,height:31.5},style:{fill:'#fff',stroke:'#000',lineWidth:1}},
 T('Diagramme des ensembles GEFS sur 384h : 39.2N 0.4W',30,677,{bold:true,size:11.67}),
 T('Températures 850hPa et 500hPa (°C) , précipitations (mm)',30,692),
 T('Ensemble GEFS du 23/08/2026 - 06Z',449,675),
 T('Copyright 2026 Meteociel.fr',449,692,{bold:true,size:11.67})
];
memberNames.forEach((n,k)=>{
  graphics.push(T(n,400+k*11,644,{size:8.5}));
  graphics.push(R(400+k*11,650,10,6,memberColors[k]));
});

const chart=echarts.init(document.getElementById('c'),null,{renderer:'canvas'});
chart.setOption({
  animation:false,backgroundColor:'#fff',
  grid:{left:50.5,top:0,width:640,height:600,containLabel:false},
  xAxis:[{type:'category',data:steps,boundaryGap:false,
    axisLine:{show:true,lineStyle:{color:'#000',width:1}},axisTick:{show:false},
    splitLine:{show:true,interval:i=>isDay(i),lineStyle:{color:'#bebebe',width:1}},
    axisLabel:{show:true,interval:i=>isDay(i),rotate:90,margin:3,align:'right',verticalAlign:'top',lineHeight:15,
      fontFamily:mono,fontSize:10,color:'#000',hideOverlap:false}}],
  yAxis:[
   {type:'value',position:'left',min:leftMin,max:leftMax,scale:true,
    axisLine:{show:true,onZero:false,lineStyle:{color:'#000',width:1}},axisTick:{show:false},splitLine:{show:false},
    axisLabel:{customValues:leftTicks,align:'left',verticalAlign:'top',lineHeight:5,margin:30,fontFamily:mono,fontSize:10,color:'#000'}},
   {type:'value',position:'right',min:leftMin+rightShift,max:leftMax+rightShift,scale:true,
    axisLine:{show:true,onZero:false,lineStyle:{color:'#000',width:1}},axisTick:{show:false},splitLine:{show:false},
    axisLabel:{customValues:rightTicks,align:'left',verticalAlign:'top',lineHeight:5,margin:19,fontFamily:mono,fontSize:10,color:'#000'}}],
  series,graphic:graphics
});
</script></body></html>
